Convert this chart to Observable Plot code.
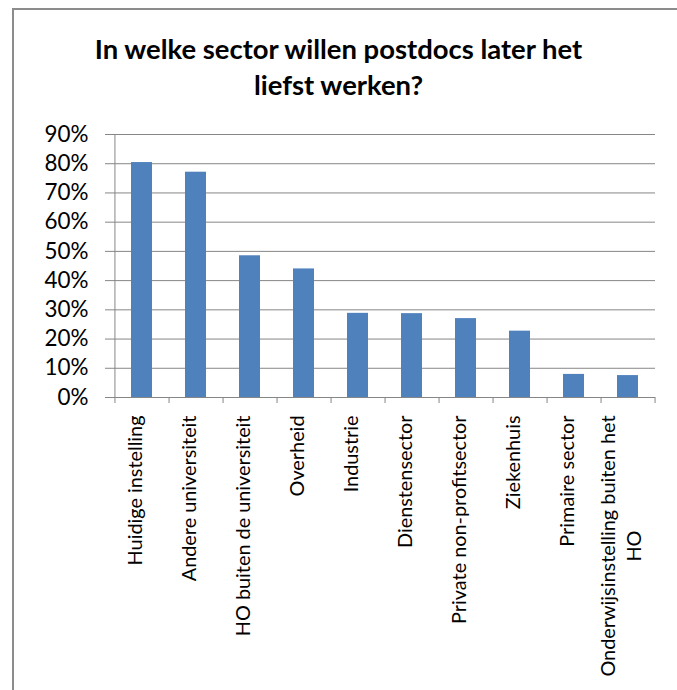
<!DOCTYPE html>
<html>
<head>
<meta charset="utf-8">
<script src="https://cdn.jsdelivr.net/npm/d3@7"></script>
<script src="https://cdn.jsdelivr.net/npm/@observablehq/plot@0.6"></script>
<style>
  html, body { margin: 0; padding: 0; background: #ffffff; }
  body { width: 677px; height: 690px; overflow: hidden; position: relative; font-family: Lato, "Open Sans", sans-serif; }
  #frame { position: absolute; left: 12px; top: 8px; width: 720px; height: 760px;
           border-left: 2px solid #8c8c8c; border-top: 2px solid #8c8c8c; box-sizing: border-box; }
  .tline { position: absolute; left: 0; width: 677px; text-align: center; font-weight: 700; color: #000;
           white-space: nowrap; font-family: Lato, sans-serif; }
  #chart { position: absolute; left: 0; top: 110px; }
</style>
</head>
<body>
<div id="frame"></div>
<div id="title"></div>
<div id="chart"></div>
<script>
// ---- data ----
const titleLines = ["In welke sector willen postdocs later het", "liefst werken?"];
const categories = [
  "Huidige instelling",
  "Andere universiteit",
  "HO buiten de universiteit",
  "Overheid",
  "Industrie",
  "Dienstensector",
  "Private non-profitsector",
  "Ziekenhuis",
  "Primaire sector",
  "Onderwijsinstelling buiten het HO"
];
const shares = [0.804, 0.771, 0.485, 0.440, 0.288, 0.287, 0.270, 0.227, 0.079, 0.075];
const yTicks = [0, 0.1, 0.2, 0.3, 0.4, 0.5, 0.6, 0.7, 0.8, 0.9];
const wrappedLabels = { "Onderwijsinstelling buiten het HO": ["Onderwijsinstelling buiten het", "HO"] };

const data = categories.map((c, i) => ({ sector: c, share: shares[i] }));

// ---- font fitting ----
const ctx = document.createElement("canvas").getContext("2d");
function fit(text, weight, family, target) {
  ctx.font = `${weight} 100px ${family}`;
  return 100 * target / ctx.measureText(text).width;
}
function textWidth(text, weight, size, family) {
  ctx.font = `${weight} ${size}px ${family}`;
  return ctx.measureText(text).width;
}
const FAM = "Lato";
const titleSize = fit(titleLines[0], 700, FAM, 490);
const xSize = fit("Huidige instelling", 400, FAM, 150);
const ySize = fit("90%", 400, FAM, 44);

// ---- title ----
ctx.font = `700 ${titleSize}px ${FAM}`;
const m = ctx.measureText(titleLines[0]);
const asc = m.fontBoundingBoxAscent ?? titleSize * 0.987;
const desc = m.fontBoundingBoxDescent ?? titleSize * 0.213;
const LH = 36;
const baseOff = (LH - (asc + desc)) / 2 + asc;
const baselines = [59, 95];
const titleDiv = document.getElementById("title");
titleLines.forEach((t, i) => {
  const d = document.createElement("div");
  d.className = "tline";
  d.textContent = t;
  d.style.fontSize = titleSize + "px";
  d.style.lineHeight = LH + "px";
  d.style.top = (baselines[i] - baseOff) + "px";
  titleDiv.appendChild(d);
});

// ---- chart ----
const W = 677, H = 575;
const mL = 114, mR = 22, mT = 24, mB = 288;
const padInner = 0.61, padOuter = 0.305;
const step = (W - mL - mR) / (categories.length - padInner + 2 * padOuter);
const axisColor = "#868686";
const labelGap = 18;

const plain = data.filter(d => !wrappedLabels[d.sector]);
const wrapped = data.filter(d => wrappedLabels[d.sector]);
const wrapLine1 = d => wrappedLabels[d.sector][0];
const wrapLine2 = d => wrappedLabels[d.sector][1];
const w1 = wrapped.length ? textWidth(wrappedLabels[wrapped[0].sector][0], 400, xSize, FAM) : 0;

const chart = Plot.plot({
  width: W, height: H,
  marginLeft: mL, marginRight: mR, marginTop: mT, marginBottom: mB,
  style: { fontFamily: FAM, background: "transparent", overflow: "visible", color: "#000" },
  x: { type: "band", domain: categories, paddingInner: padInner, paddingOuter: padOuter, axis: null },
  y: { domain: [0, 0.9], axis: null },
  marks: [
    Plot.gridY(yTicks, { stroke: axisColor, strokeOpacity: 1, strokeWidth: 1 }),
    Plot.axisY(yTicks, {
      tickSize: 9, tickPadding: 17, tickFormat: d3.format(".0%"),
      stroke: axisColor, strokeOpacity: 1, fill: "#000", fontSize: ySize, label: null
    }),
    Plot.barY(data, { x: "sector", y: "share", fill: "#4F81BD" }),
    // y axis line at left edge of plot area
    Plot.ruleX([categories[0]], { dx: -step / 2, stroke: axisColor, strokeWidth: 1 }),
    // x axis baseline
    Plot.ruleY([0], { stroke: axisColor, strokeWidth: 1 }),
    // category boundary tick marks
    Plot.axisX(categories, { tickSize: 6, tickFormat: () => "", dx: step / 2, stroke: axisColor, strokeOpacity: 1, label: null }),
    Plot.axisX([categories[0]], { tickSize: 6, tickFormat: () => "", dx: -step / 2, stroke: axisColor, strokeOpacity: 1, label: null }),
    // category labels
    Plot.text(plain, {
      x: "sector", text: "sector", frameAnchor: "bottom", rotate: -90, textAnchor: "end",
      dy: labelGap, fontSize: xSize, fill: "#000"
    }),
    Plot.text(wrapped, {
      x: "sector", text: wrapLine1, frameAnchor: "bottom", rotate: -90, textAnchor: "end",
      dy: labelGap, dx: -13, fontSize: xSize, fill: "#000"
    }),
    Plot.text(wrapped, {
      x: "sector", text: wrapLine2, frameAnchor: "bottom", rotate: -90, textAnchor: "middle",
      dy: labelGap + w1 / 2, dx: 13, fontSize: xSize, fill: "#000"
    })
  ]
});
document.getElementById("chart").appendChild(chart);
</script>
</body>
</html>
